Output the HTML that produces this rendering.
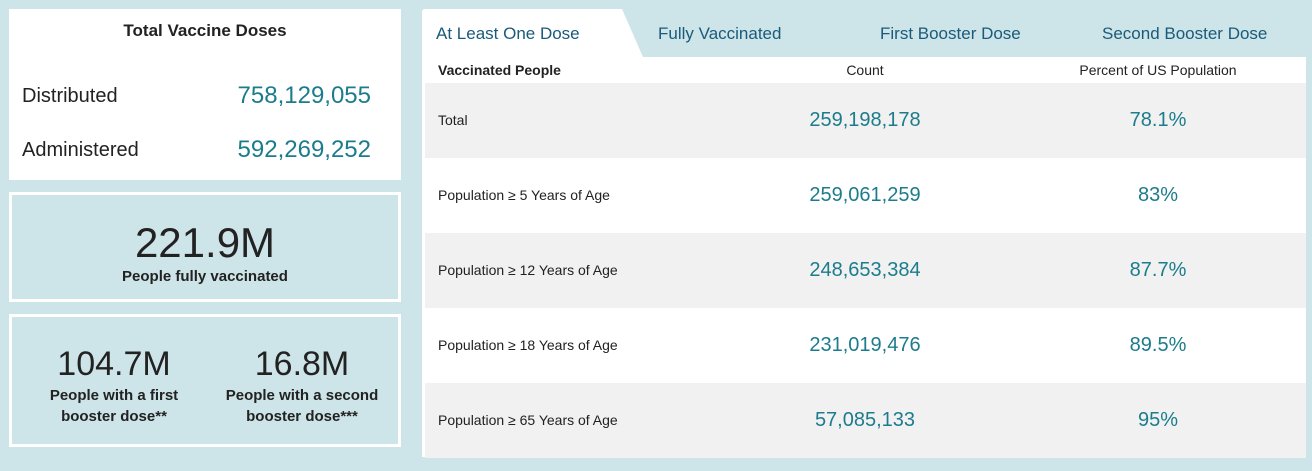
<!DOCTYPE html>
<html><head><meta charset="utf-8"><style>
*{margin:0;padding:0;box-sizing:border-box}
body{width:1312px;height:471px;background:#cde4e8;font-family:"Liberation Sans",sans-serif;position:relative;overflow:hidden;color:#222}
.abs{position:absolute}
.teal{color:#1c7c8c}
</style></head><body>
<div class="abs" style="left:9px;top:9px;width:392px;height:171px;background:#fff">
 <div class="abs" style="left:0;width:392px;top:12px;text-align:center;font-weight:bold;font-size:17px">Total Vaccine Doses</div>
 <div class="abs" style="left:13px;top:76px;font-size:20px">Distributed</div>
 <div class="abs teal" style="right:30px;top:73px;font-size:24px">758,129,055</div>
 <div class="abs" style="left:13px;top:130px;font-size:20px">Administered</div>
 <div class="abs teal" style="right:30px;top:127px;font-size:24px">592,269,252</div>
</div>
<div class="abs" style="left:9px;top:192px;width:392px;height:110px;border:3px solid #fff;text-align:center">
 <div style="margin-top:26px;font-size:42px;line-height:44px">221.9M</div>
 <div style="margin-top:3px;font-weight:bold;font-size:15px">People fully vaccinated</div>
</div>
<div class="abs" style="left:9px;top:314px;width:392px;height:133px;border:3px solid #fff">
 <div class="abs" style="left:12px;width:180px;top:28px;text-align:center">
  <div style="font-size:34px;line-height:38px">104.7M</div>
  <div style="font-weight:bold;font-size:15px;line-height:21px;margin-top:2px">People with a first booster dose**</div>
 </div>
 <div class="abs" style="left:200px;width:180px;top:28px;text-align:center">
  <div style="font-size:34px;line-height:38px">16.8M</div>
  <div style="font-weight:bold;font-size:15px;line-height:21px;margin-top:2px">People with a second booster dose***</div>
 </div>
</div>
<div class="abs" style="left:422px;top:57px;width:884px;height:400px;background:#fff"></div>
<svg class="abs" style="left:422px;top:9px" width="230" height="49"><path d="M0 3 Q0 0 3 0 L200 0 L221 48 L0 48Z" fill="#fff"/></svg>
<div class="abs" style="left:436px;top:24px;font-size:17px;color:#1a5a7a">At Least One Dose</div>
<div class="abs" style="left:658px;top:24px;font-size:17px;color:#1a5a7a">Fully Vaccinated</div>
<div class="abs" style="left:880px;top:24px;font-size:17px;color:#1a5a7a">First Booster Dose</div>
<div class="abs" style="left:1102px;top:24px;font-size:17px;color:#1a5a7a">Second Booster Dose</div>
<div class="abs" style="left:438px;top:62px;font-size:14px;font-weight:bold">Vaccinated People</div>
<div class="abs" style="left:765px;width:200px;text-align:center;top:62px;font-size:14px">Count</div>
<div class="abs" style="left:1058px;width:200px;text-align:center;top:62px;font-size:14px">Percent of US Population</div>
<div id="rows"></div>
<script>
const labels=["Total","Population ≥ 5 Years of Age","Population ≥ 12 Years of Age","Population ≥ 18 Years of Age","Population ≥ 65 Years of Age"];
const counts=["259,198,178","259,061,259","248,653,384","231,019,476","57,085,133"];
const percents=["78.1%","83%","87.7%","89.5%","95%"];
const host=document.getElementById('rows');
labels.forEach((l,i)=>{
 const r=document.createElement('div');
 
 
 r.className='abs';
 r.style.cssText=`left:425px;top:${83+i*75}px;width:881px;height:75px;background:${i%2?'#fff':'#f1f1f1'}`;
 r.innerHTML=`<div class="abs" style="left:13px;top:29px;font-size:14px">${l}</div><div class="abs teal" style="left:340px;width:200px;text-align:center;top:26px;font-size:20px">${counts[i]}</div><div class="abs teal" style="left:633px;width:200px;text-align:center;top:26px;font-size:20px">${percents[i]}</div>`;
 host.appendChild(r);
});
</script>
</body></html>
